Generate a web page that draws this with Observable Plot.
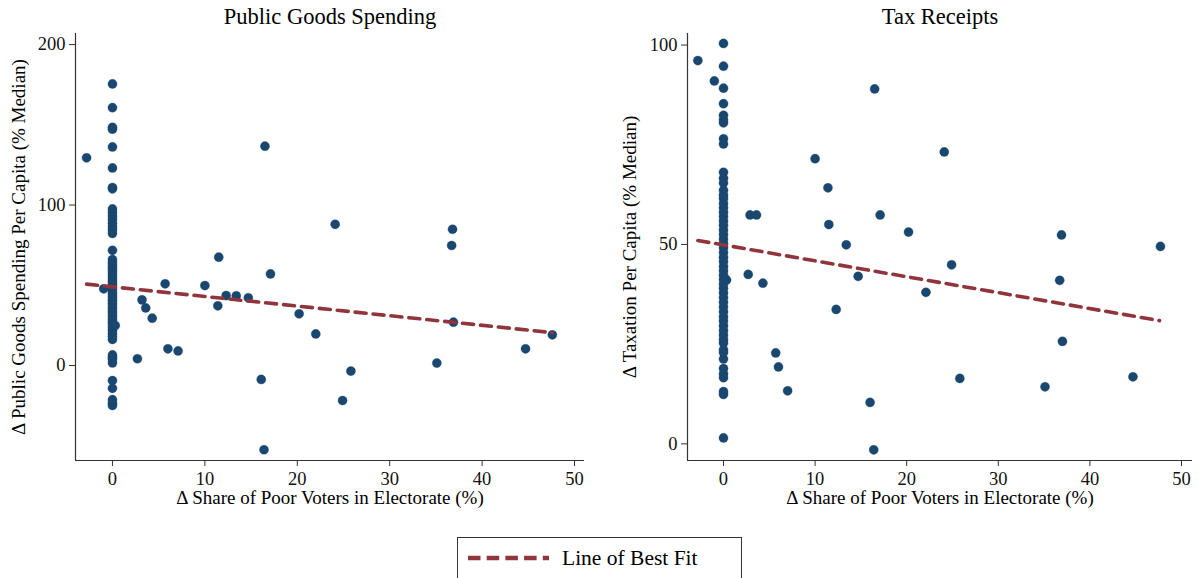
<!DOCTYPE html>
<html><head><meta charset="utf-8">
<script src="https://cdn.jsdelivr.net/npm/d3@7"></script>
<script src="https://cdn.jsdelivr.net/npm/@observablehq/plot@0.6"></script>
<style>
body{margin:0;background:#fff;}
#wrap{position:relative;width:1199px;height:578px;overflow:hidden;font-family:"Liberation Serif","DejaVu Serif",serif;background:#fff;}
#left,#right{position:absolute;top:0;}
#left{left:0;} #right{left:600px;}
#legend{position:absolute;left:457px;top:537px;width:285px;height:50px;box-sizing:border-box;border:1px solid #333;background:#fff;}
</style></head><body>
<div id="wrap"><div id="left"></div><div id="right"></div><div id="legend"></div></div>
<script>
// ---- Data: Public Goods Spending panel ----
const pgZeroY = [175.5, 160.7, 148.4, 147.3, 136.2, 123.1, 110.9, 110.1, 97.6, 95.4, 93.1, 91.0, 88.6, 86.4, 84.5, 82.3, 71.8, 66.0, 64.2, 62.6, 61.0, 59.5, 57.6, 55.8, 54.1, 52.4, 50.7, 49.0, 47.3, 45.5, 43.9, 42.2, 40.6, 38.8, 37.1, 35.5, 33.7, 32.1, 30.4, 28.6, 27.0, 25.2, 23.5, 21.8, 19.9, 18.1, 16.2, 6.6, 5.1, 3.8, 1.6, -9.4, -14.2, -21.3, -23.6, -24.9];
const pgOtherX = [-2.8, -0.95, 0.3, 2.7, 3.2, 3.6, 4.3, 5.7, 6.0, 7.1, 10.0, 11.4, 11.5, 12.3, 13.4, 14.7, 16.1, 16.4, 16.5, 17.1, 20.2, 22.0, 24.1, 24.9, 25.8, 35.1, 36.7, 36.8, 36.9, 44.7, 47.6];
const pgOtherY = [129.4, 47.8, 24.9, 4.2, 40.9, 35.9, 29.5, 50.9, 10.4, 9.1, 49.8, 37.2, 67.5, 43.6, 43.4, 42.2, -8.7, -52.5, 136.7, 57.1, 32.2, 19.7, 88.0, -21.8, -3.5, 1.5, 74.8, 84.9, 27.0, 10.4, 19.1];
const pgFitX = [-2.8, 47.6];
const pgFitY = [50.7, 20.5];
const pgYTicks = [0, 100, 200];

// ---- Data: Tax Receipts panel ----
const taxZeroY = [100.4, 94.7, 89.2, 85.3, 82.4, 81.3, 80.5, 76.5, 75.2, 68.1, 66.6, 65.4, 63.6, 62.4, 61.5, 60.3, 59.2, 58.1, 57.0, 55.9, 54.8, 53.6, 52.5, 51.4, 50.3, 49.2, 48.0, 46.8, 45.7, 44.5, 43.4, 42.3, 41.2, 40.1, 39.0, 37.9, 36.7, 35.5, 34.3, 33.1, 31.9, 30.8, 29.6, 28.4, 27.3, 26.2, 25.3, 23.6, 22.9, 21.3, 18.9, 17.6, 16.6, 13.1, 12.4, 1.5];
const taxOtherX = [-2.8, -1.0, 0.33, 2.7, 2.9, 3.6, 4.3, 5.7, 6.0, 7.0, 10.0, 11.4, 11.5, 12.3, 13.4, 14.7, 16.0, 16.4, 16.5, 17.1, 20.2, 22.1, 24.1, 24.9, 25.8, 35.1, 36.7, 36.9, 37.0, 44.7, 47.7];
const taxOtherY = [96.1, 91.0, 41.1, 42.5, 57.4, 57.4, 40.3, 22.8, 19.3, 13.3, 71.5, 64.2, 55.0, 33.7, 49.9, 42.0, 10.4, -1.5, 89.0, 57.4, 53.1, 38.0, 73.2, 44.9, 16.4, 14.3, 41.0, 52.4, 25.7, 16.8, 49.5];
const taxFitX = [-2.8, 47.6];
const taxFitY = [51.0, 30.9];
const taxYTicks = [0, 50, 100];

const xTicks = [0, 10, 20, 30, 40, 50];
const xLabel = "Δ Share of Poor Voters in Electorate (%)";

const NAVY = "#1a476f", MAROON = "#90353b", FONT = "Liberation Serif, DejaVu Serif, serif";

function panel(o) {
  const pts = o.zeroY.map(y => ({x: 0, y})).concat(o.otherX.map((x, i) => ({x, y: o.otherY[i]})));
  const fit = o.fitX.map((x, i) => ({x, y: o.fitY[i]}));
  return Plot.plot({
    width: o.width, height: 520,
    marginLeft: o.marginLeft, marginRight: o.marginRight, marginTop: 33, marginBottom: 60,
    style: {fontFamily: FONT, background: "white", color: "#111", overflow: "visible"},
    x: {domain: o.xDomain},
    y: {domain: o.yDomain},
    marks: [
      Plot.ruleX([o.xDomain[0]], {stroke: "#333", strokeWidth: 1.2}),
      Plot.ruleY([o.yDomain[0]], {stroke: "#333", strokeWidth: 1.2}),
      Plot.axisX(xTicks, {tickSize: 6, tickPadding: 5, fontSize: 18.5, label: null, stroke: "#333"}),
      Plot.axisY(o.yTicks, {tickSize: 6, tickPadding: 4, fontSize: 18.5, label: null, stroke: "#333"}),
      Plot.dot(pts, {x: "x", y: "y", r: 4.6, fill: NAVY, stroke: NAVY, strokeWidth: 0.3}),
      Plot.line(fit, {x: "x", y: "y", stroke: MAROON, strokeWidth: 3.6, strokeDasharray: "11,7"}),
      Plot.text([o.title], {frameAnchor: "top", lineAnchor: "middle", dy: -17, fontSize: 22.5, fill: "#000"}),
      Plot.text([xLabel], {frameAnchor: "bottom", lineAnchor: "middle", dy: 37, fontSize: 19, fill: "#000"}),
      Plot.text([o.yLabel], {frameAnchor: "left", textAnchor: "middle", lineAnchor: "middle", dx: o.yLabelDx, rotate: -90, fontSize: 19, fill: "#000"})
    ]
  });
}

document.getElementById("left").appendChild(panel({
  zeroY: pgZeroY, otherX: pgOtherX, otherY: pgOtherY, fitX: pgFitX, fitY: pgFitY,
  width: 600, marginLeft: 75, marginRight: 16,
  xDomain: [-4.0, 51.08], yDomain: [-59.2, 206.9], yTicks: pgYTicks,
  title: "Public Goods Spending",
  yLabel: "Δ Public Goods Spending Per Capita (% Median)", yLabelDx: -57
}));

document.getElementById("right").appendChild(panel({
  zeroY: taxZeroY, otherX: taxOtherX, otherY: taxOtherY, fitX: taxFitX, fitY: taxFitY,
  width: 599, marginLeft: 87, marginRight: 7,
  xDomain: [-3.93, 51.2], yDomain: [-4.17, 102.9], yTicks: taxYTicks,
  title: "Tax Receipts",
  yLabel: "Δ Taxation Per Capita (% Median)", yLabelDx: -58
}));

// ---- Legend ----
const legend = d3.select("#legend").append("svg").attr("width", 283).attr("height", 48);
legend.append("line").attr("x1", 10).attr("x2", 91).attr("y1", 20).attr("y2", 20)
  .attr("stroke", MAROON).attr("stroke-width", 4.5).attr("stroke-dasharray", "12.5,6.2");
legend.append("text").attr("x", 104).attr("y", 20).attr("dy", "0.34em")
  .attr("font-family", FONT).attr("font-size", 21.5).attr("fill", "#000").text("Line of Best Fit");
</script>
</body></html>
